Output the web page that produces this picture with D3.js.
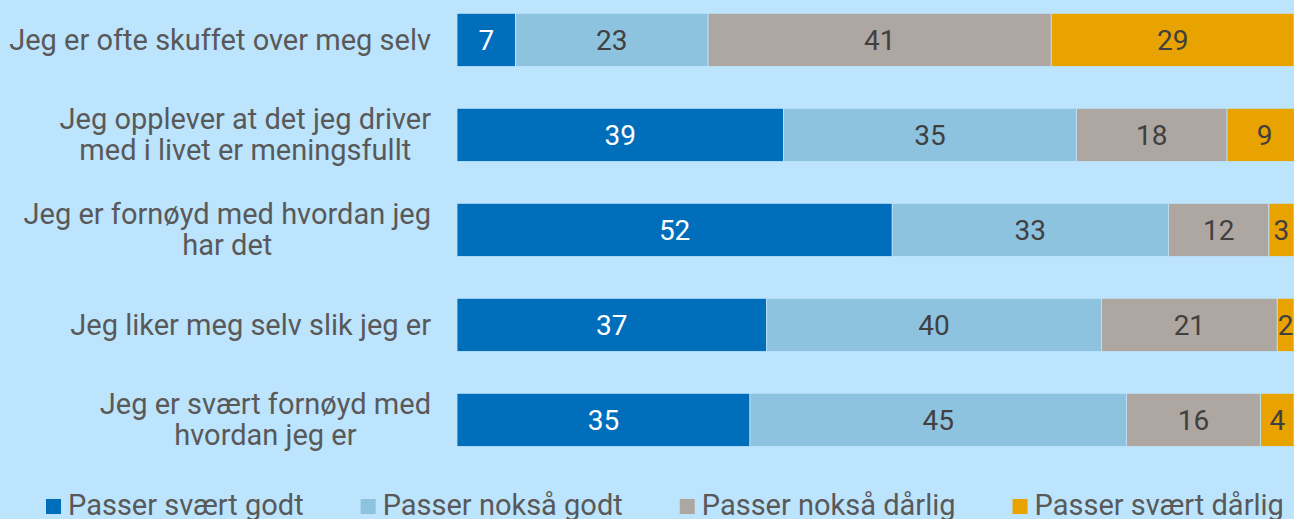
<!DOCTYPE html>
<html>
<head>
<meta charset="utf-8">
<script src="https://cdn.jsdelivr.net/npm/d3@7"></script>
<style>
  html, body { margin: 0; padding: 0; background: #bde4fd; overflow: hidden; }
  svg { display: block; }
  text { font-family: Roboto, "Liberation Sans", Arial, sans-serif; }
</style>
</head>
<body>
<svg id="chart" width="1294" height="519"></svg>
<script>
// Statements (one bar each), top to bottom
const categories = [
  "Jeg er ofte skuffet over meg selv",
  "Jeg opplever at det jeg driver med i livet er meningsfullt",
  "Jeg er fornøyd med hvordan jeg har det",
  "Jeg liker meg selv slik jeg er",
  "Jeg er svært fornøyd med hvordan jeg er"
];

// Response options (stack order, left to right)
const seriesNames = [
  "Passer svært godt",
  "Passer nokså godt",
  "Passer nokså dårlig",
  "Passer svært dårlig"
];

// Percent per statement for each response option
const svaertGodt   = [7, 39, 52, 37, 35];
const noksaGodt    = [23, 35, 33, 40, 45];
const noksaDarlig  = [41, 18, 12, 21, 16];
const svaertDarlig = [29, 9, 3, 2, 4];

const seriesValues = [svaertGodt, noksaGodt, noksaDarlig, svaertDarlig];
const colors = ["#006ebb", "#8dc3df", "#aea6a0", "#e9a300"];
const labelColors = ["#ffffff", "#404040", "#404040", "#404040"];

const svg = d3.select("#chart");

const rows = categories.map((c, i) => {
  const r = { category: c };
  seriesNames.forEach((s, j) => { r[s] = seriesValues[j][i]; });
  return r;
});
const stacked = d3.stack().keys(seriesNames)(rows);

const x = d3.scaleLinear().domain([0, 100]).range([457, 1294]);
const y = d3.scaleBand()
  .domain(categories)
  .range([-28.5, 488.3])
  .paddingInner(0.44)
  .paddingOuter(0.44);

// Bars
const layers = svg.append("g").selectAll("g")
  .data(stacked)
  .join("g")
  .attr("fill", (d, i) => colors[i]);

layers.selectAll("rect")
  .data(d => d.map(v => ({ v, key: d.key })))
  .join("rect")
  .attr("x", d => x(d.v[0]))
  .attr("y", d => y(d.v.data.category))
  .attr("width", d => x(d.v[1]) - x(d.v[0]))
  .attr("height", y.bandwidth())
  .attr("stroke", "#bde4fd")
  .attr("stroke-width", 0.8);

// Value labels centred in each segment
stacked.forEach((layer, i) => {
  svg.append("g").selectAll("text")
    .data(layer)
    .join("text")
    .attr("x", d => (x(d[0]) + x(d[1])) / 2)
    .attr("y", d => y(d.data.category) + y.bandwidth() / 2)
    .attr("dy", "0.37em")
    .attr("text-anchor", "middle")
    .attr("font-size", 28)
    .attr("fill", labelColors[i])
    .text(d => d[1] - d[0]);
});

// Category labels, wrapped to the space left of the bars; lines centred in their block
const labelRight = 431, maxWidth = 428, lineH = 31, fs = 29;
const catG = svg.append("g");
categories.forEach(c => {
  const t = catG.append("text")
    .attr("text-anchor", "middle")
    .attr("font-size", fs)
    .attr("fill", "#595959");
  const words = c.split(" ");
  const lines = [];
  let line = [];
  const probe = t.append("tspan");
  const width = s => { probe.text(s); return probe.node().getComputedTextLength(); };
  words.forEach(w => {
    const test = line.concat([w]).join(" ");
    if (width(test) > maxWidth && line.length) {
      lines.push(line.join(" "));
      line = [w];
    } else {
      line.push(w);
    }
  });
  lines.push(line.join(" "));
  const blockW = d3.max(lines, l => width(l));
  probe.remove();
  const cx = labelRight - blockW / 2;
  const cy = y(c) + y.bandwidth() / 2;
  const first = cy + 10 - (lines.length - 1) * lineH / 2;
  lines.forEach((l, k) => {
    t.append("tspan")
      .attr("x", cx)
      .attr("y", first + k * lineH)
      .text(l);
  });
});

// Legend
const legend = svg.append("g");
let lx = 46;
seriesNames.forEach((s, i) => {
  legend.append("rect")
    .attr("x", lx).attr("y", 499)
    .attr("width", 15).attr("height", 15)
    .attr("fill", colors[i]);
  const t = legend.append("text")
    .attr("x", lx + 22).attr("y", 515)
    .attr("font-size", fs)
    .attr("fill", "#595959")
    .text(s);
  lx += 22 + t.node().getComputedTextLength() + 57;
});
</script>
</body>
</html>
